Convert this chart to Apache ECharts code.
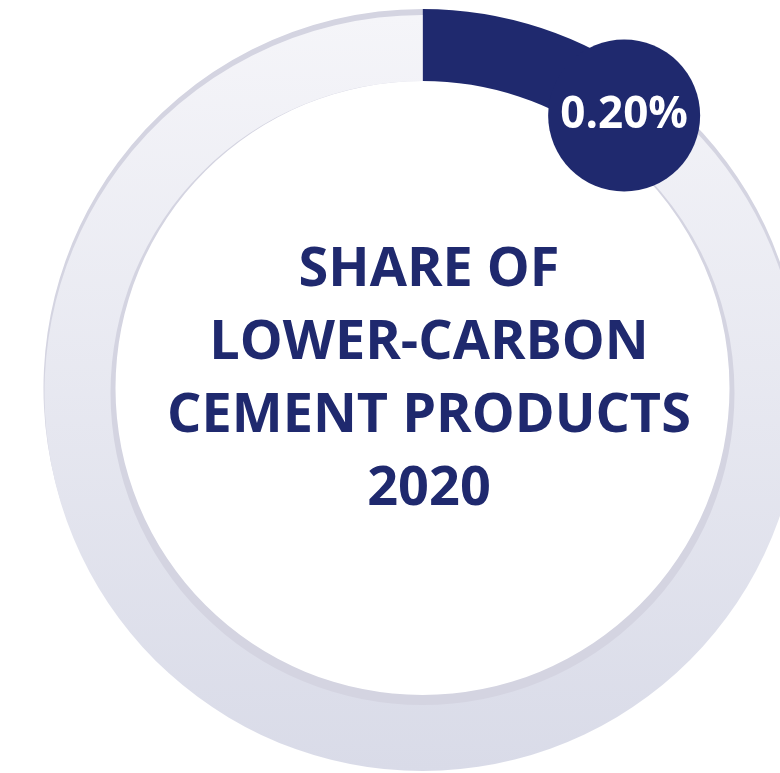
<!DOCTYPE html>
<html>
<head>
<meta charset="utf-8">
<script src="https://cdn.jsdelivr.net/npm/echarts@6/dist/echarts.min.js"></script>
<style>
html,body{margin:0;padding:0;background:#fff;}
#chart{width:780px;height:773px;}
</style>
</head>
<body>
<div id="chart"></div>
<script>
// ---- data ----
const categories = ['Lower-carbon cement products', 'Other cement products'];
const shareValues = [0.2, 99.8];
const centerTitleLines = ['SHARE OF', 'LOWER-CARBON', 'CEMENT PRODUCTS', '2020'];

// ---- styles ----
const NAVY = '#1f296e';
const BAND = '#d4d4e1';
const FONT = 'Open Sans';

function makeData(colors, labels) {
  return categories.map((name, i) => ({
    name: name,
    value: shareValues[i],
    itemStyle: { color: colors[i] },
    label: { show: !!labels[i] }
  }));
}

const lightGradient = {
  type: 'linear', x: 0, y: 0, x2: 0, y2: 1,
  colorStops: [
    { offset: 0, color: '#f5f5f9' },
    { offset: 1, color: '#d9dbe8' }
  ]
};

const chart = echarts.init(document.getElementById('chart'), null, { renderer: 'canvas' });
chart.setOption({
  animation: false,
  backgroundColor: '#ffffff',
  title: {
    text: centerTitleLines.join('\n'),
    left: 424,
    top: 229,
    textAlign: 'center',
    textStyle: {
      fontFamily: FONT,
      fontWeight: 'bold',
      fontSize: 54,
      lineHeight: 73,
      color: NAVY
    }
  },
  series: [
    {
      type: 'pie',
      silent: true,
      center: [422.5, 388],
      radius: [307, 379],
      startAngle: 90,
      clockwise: true,
      minAngle: 36.5,
      avoidLabelOverlap: false,
      label: { show: false },
      labelLine: { show: false },
      emphasis: { disabled: true },
      itemStyle: { borderWidth: 0 },
      data: makeData([NAVY, BAND], [false, false])
    },
    {
      type: 'pie',
      silent: true,
      center: [422.5, 393],
      radius: [312, 378],
      startAngle: 90,
      clockwise: true,
      minAngle: 36.5,
      avoidLabelOverlap: false,
      label: { show: false },
      labelLine: { show: false },
      emphasis: { disabled: true },
      itemStyle: { borderWidth: 0 },
      data: makeData(['rgba(0,0,0,0)', lightGradient], [false, false])
    },
    {
      type: 'pie',
      silent: true,
      center: [422.5, 388],
      radius: [300, 372],
      startAngle: 90,
      clockwise: true,
      minAngle: 73,
      avoidLabelOverlap: false,
      labelLine: { show: false },
      emphasis: { disabled: true },
      itemStyle: { color: 'rgba(0,0,0,0)', borderWidth: 0 },
      label: {
        show: true,
        position: 'inside',
        formatter: (p) => p.value.toFixed(2) + '%',
        color: '#ffffff',
        fontFamily: FONT,
        fontWeight: 'bold',
        fontSize: 44,
        backgroundColor: NAVY,
        width: 152,
        height: 152,
        lineHeight: 152,
        borderRadius: 76,
        align: 'center',
        verticalAlign: 'middle'
      },
      data: makeData(['rgba(0,0,0,0)', 'rgba(0,0,0,0)'], [true, false])
    }
  ]
});
</script>
</body>
</html>
